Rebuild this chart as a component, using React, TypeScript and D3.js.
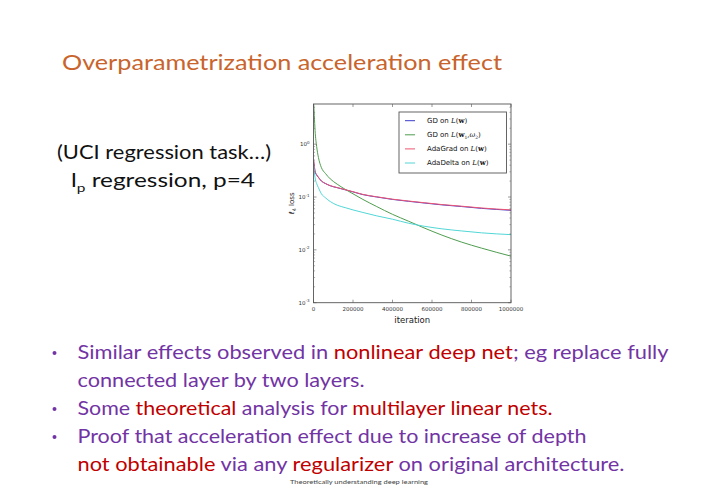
import React from "react";
import * as d3 from "d3";

const iterations = [0, 4000, 8000, 16000, 25000, 40000, 60000, 85000, 120000, 160000, 200000, 250000, 320000, 400000, 480000, 560000, 650000, 750000, 850000, 1000000];
const gdW = [0.5, 0.38, 0.3, 0.26, 0.235, 0.2, 0.18, 0.163, 0.15, 0.137, 0.125, 0.111, 0.1, 0.09, 0.083, 0.077, 0.071, 0.066, 0.061, 0.056];
const gdW1W2 = [7, 3.5, 1.8, 0.9, 0.56, 0.36, 0.28, 0.22, 0.175, 0.14, 0.115, 0.09, 0.066, 0.047, 0.035, 0.026, 0.019, 0.014, 0.0108, 0.0076];
const adaGradW = [0.52, 0.39, 0.31, 0.265, 0.237, 0.202, 0.181, 0.164, 0.151, 0.138, 0.126, 0.112, 0.101, 0.091, 0.084, 0.078, 0.072, 0.067, 0.062, 0.057];
const adaDeltaW = [0.42, 0.3, 0.23, 0.18, 0.15, 0.115, 0.097, 0.082, 0.07, 0.063, 0.057, 0.051, 0.044, 0.038, 0.032, 0.028, 0.025, 0.0228, 0.021, 0.0194];

const xTicks = [0, 200000, 400000, 600000, 800000, 1000000];
const yTicks = [0.001, 0.01, 0.1, 1];
const yTickExps = ["-3", "-2", "-1", "0"];

const series = [
  { name: "gd", values: gdW, color: "#3c3ccc" },
  { name: "gd2", values: gdW1W2, color: "#4f9d4f" },
  { name: "adagrad", values: adaGradW, color: "#ee5470" },
  { name: "adadelta", values: adaDeltaW, color: "#52d6d6" },
];

const purple = "#7234a4";
const red = "#c00000";
const bodyFont = "Lato, 'Open Sans', sans-serif";
const plotFont = "'DejaVu Sans', sans-serif";

export default function App() {
  const x = d3.scaleLinear().domain([0, 1000000]).range([313.5, 511]);
  const y = d3.scaleLog().domain([0.001, Math.pow(10, 0.76)]).range([302.7, 104]);
  const line = d3
    .line<number>()
    .x((_, i) => x(iterations[i]))
    .y((d) => y(d))
    .curve(d3.curveMonotoneX);

  const minor: number[] = [];
  for (const dec of [0.001, 0.01, 0.1, 1]) {
    for (let k = 2; k <= 9; k++) {
      const v = dec * k;
      if (v <= Math.pow(10, 0.76)) minor.push(v);
    }
  }
  const [x0, x1] = x.range();
  const [yb, yt] = y.range();

  const legendItems = [
    { color: series[0].color, label: "GD on ", math: "w" },
    { color: series[1].color, label: "GD on ", math: "w2" },
    { color: series[2].color, label: "AdaGrad on ", math: "w" },
    { color: series[3].color, label: "AdaDelta on ", math: "w" },
  ];

  return (
    <svg width={720} height={504} style={{ display: "block", position: "absolute", left: 0, top: 0 }}>
      <rect width={720} height={504} fill="#fff" />
      <text x={62} y={69.5} fontFamily={bodyFont} fontSize={21} fill="#c8642c" textLength={440} lengthAdjust="spacingAndGlyphs">
        Overparametrization acceleration effect
      </text>
      <text x={57} y={158.5} fontFamily={bodyFont} fontSize={19} fill="#111" textLength={214} lengthAdjust="spacingAndGlyphs">
        (UCI regression task…)
      </text>
      <text x={71} y={186.5} fontFamily={bodyFont} fontSize={19} fill="#111" textLength={184} lengthAdjust="spacingAndGlyphs">
        l<tspan fontSize={12} dy={5}>p</tspan><tspan dy={-5}> regression, p=4</tspan>
      </text>

      {/* plot */}
      <defs>
        <clipPath id="plotclip">
          <rect x={x0} y={yt} width={x1 - x0} height={yb - yt} />
        </clipPath>
      </defs>
      <g clipPath="url(#plotclip)">
        {series.map((s) => (
          <path key={s.name} d={line(s.values) || ""} fill="none" stroke={s.color} strokeWidth={1} />
        ))}
      </g>
      <rect x={x0} y={yt} width={x1 - x0} height={yb - yt} fill="none" stroke="#555" strokeWidth={0.9} />
      {xTicks.map((t) => (
        <g key={"xt" + t}>
          <line x1={x(t)} x2={x(t)} y1={yb} y2={yb - 3} stroke="#555" strokeWidth={0.6} />
          <line x1={x(t)} x2={x(t)} y1={yt} y2={yt + 3} stroke="#555" strokeWidth={0.6} />
          <text x={x(t)} y={311} fontFamily={plotFont} fontSize={5.5} textAnchor="middle" fill="#333">
            {t}
          </text>
        </g>
      ))}
      {yTicks.map((t, i) => (
        <g key={"yt" + t}>
          <line x1={x0} x2={x0 + 3} y1={y(t)} y2={y(t)} stroke="#555" strokeWidth={0.6} />
          <line x1={x1} x2={x1 - 3} y1={y(t)} y2={y(t)} stroke="#555" strokeWidth={0.6} />
          <text x={309.5} y={y(t) + 2} fontFamily={plotFont} fontSize={5.5} textAnchor="end" fill="#333">
            10<tspan fontSize={4} dy={-2.5}>{yTickExps[i]}</tspan>
          </text>
        </g>
      ))}
      {minor.map((t) => (
        <g key={"ym" + t}>
          <line x1={x0} x2={x0 + 1.6} y1={y(t)} y2={y(t)} stroke="#666" strokeWidth={0.5} />
          <line x1={x1} x2={x1 - 1.6} y1={y(t)} y2={y(t)} stroke="#666" strokeWidth={0.5} />
        </g>
      ))}
      <text x={(x0 + x1) / 2} y={323} fontFamily={plotFont} fontSize={8.5} textAnchor="middle" fill="#222">
        iteration
      </text>
      <text transform={`translate(294, ${(yb + yt) / 2}) rotate(-90)`} fontFamily={plotFont} fontSize={7} textAnchor="middle" fill="#222">
        <tspan fontStyle="italic">ℓ</tspan><tspan fontSize={5} dy={1.5}>4</tspan><tspan dy={-1.5}> loss</tspan>
      </text>

      {/* legend */}
      <rect x={399} y={112} width={107.5} height={61} fill="#fff" stroke="#555" strokeWidth={0.9} />
      {legendItems.map((it, i) => {
        const ly = 120.7 + i * 14.1;
        return (
          <g key={"lg" + i}>
            <line x1={405} x2={415} y1={ly} y2={ly} stroke={it.color} strokeWidth={1} />
            <text x={427} y={ly + 2.4} fontFamily={plotFont} fontSize={7} fill="#111">
              {it.label}
              <tspan fontFamily="'DejaVu Serif', serif" fontStyle="italic">L</tspan>
              <tspan fontFamily="'DejaVu Serif', serif">(</tspan>
              <tspan fontFamily="'DejaVu Serif', serif" fontWeight="bold">w</tspan>
              {it.math === "w2" ? (
                <>
                  <tspan fontFamily="'DejaVu Serif', serif" fontSize={4.5} dy={1.5}>1</tspan>
                  <tspan fontFamily="'DejaVu Serif', serif" dy={-1.5}>,</tspan>
                  <tspan fontFamily="'DejaVu Serif', serif" fontStyle="italic">ω</tspan>
                  <tspan fontFamily="'DejaVu Serif', serif" fontSize={4.5} dy={1.5}>2</tspan>
                  <tspan fontFamily="'DejaVu Serif', serif" dy={-1.5}>)</tspan>
                </>
              ) : (
                <tspan fontFamily="'DejaVu Serif', serif">)</tspan>
              )}
            </text>
          </g>
        );
      })}

      {/* bullets */}
      {[353, 409, 437].map((by) => (
        <circle key={"b" + by} cx={54.5} cy={by} r={2} fill={purple} />
      ))}
      <text x={77.5} y={359} fontFamily={bodyFont} fontSize={20} fill={purple} textLength={591} lengthAdjust="spacingAndGlyphs">
        Similar effects observed in <tspan fill={red}>nonlinear deep net</tspan>; eg replace fully
      </text>
      <text x={77.5} y={387} fontFamily={bodyFont} fontSize={20} fill={purple} textLength={287} lengthAdjust="spacingAndGlyphs">
        connected layer by two layers.
      </text>
      <text x={77.5} y={415} fontFamily={bodyFont} fontSize={20} fill={purple} textLength={475} lengthAdjust="spacingAndGlyphs">
        Some <tspan fill={red}>theoretical</tspan> analysis for <tspan fill={red}>multilayer linear nets.</tspan>
      </text>
      <text x={77.5} y={443} fontFamily={bodyFont} fontSize={20} fill={purple} textLength={509} lengthAdjust="spacingAndGlyphs">
        Proof that acceleration effect due to increase of depth
      </text>
      <text x={77.5} y={471} fontFamily={bodyFont} fontSize={20} fill={purple} textLength={547} lengthAdjust="spacingAndGlyphs">
        <tspan fill={red}>not obtainable</tspan> via any <tspan fill={red}>regularizer</tspan> on original architecture.
      </text>
      <text x={290} y={483.5} fontFamily={bodyFont} fontSize={6} fill="#444" textLength={138} lengthAdjust="spacingAndGlyphs">
        Theoretically understanding deep learning
      </text>
    </svg>
  );
}
